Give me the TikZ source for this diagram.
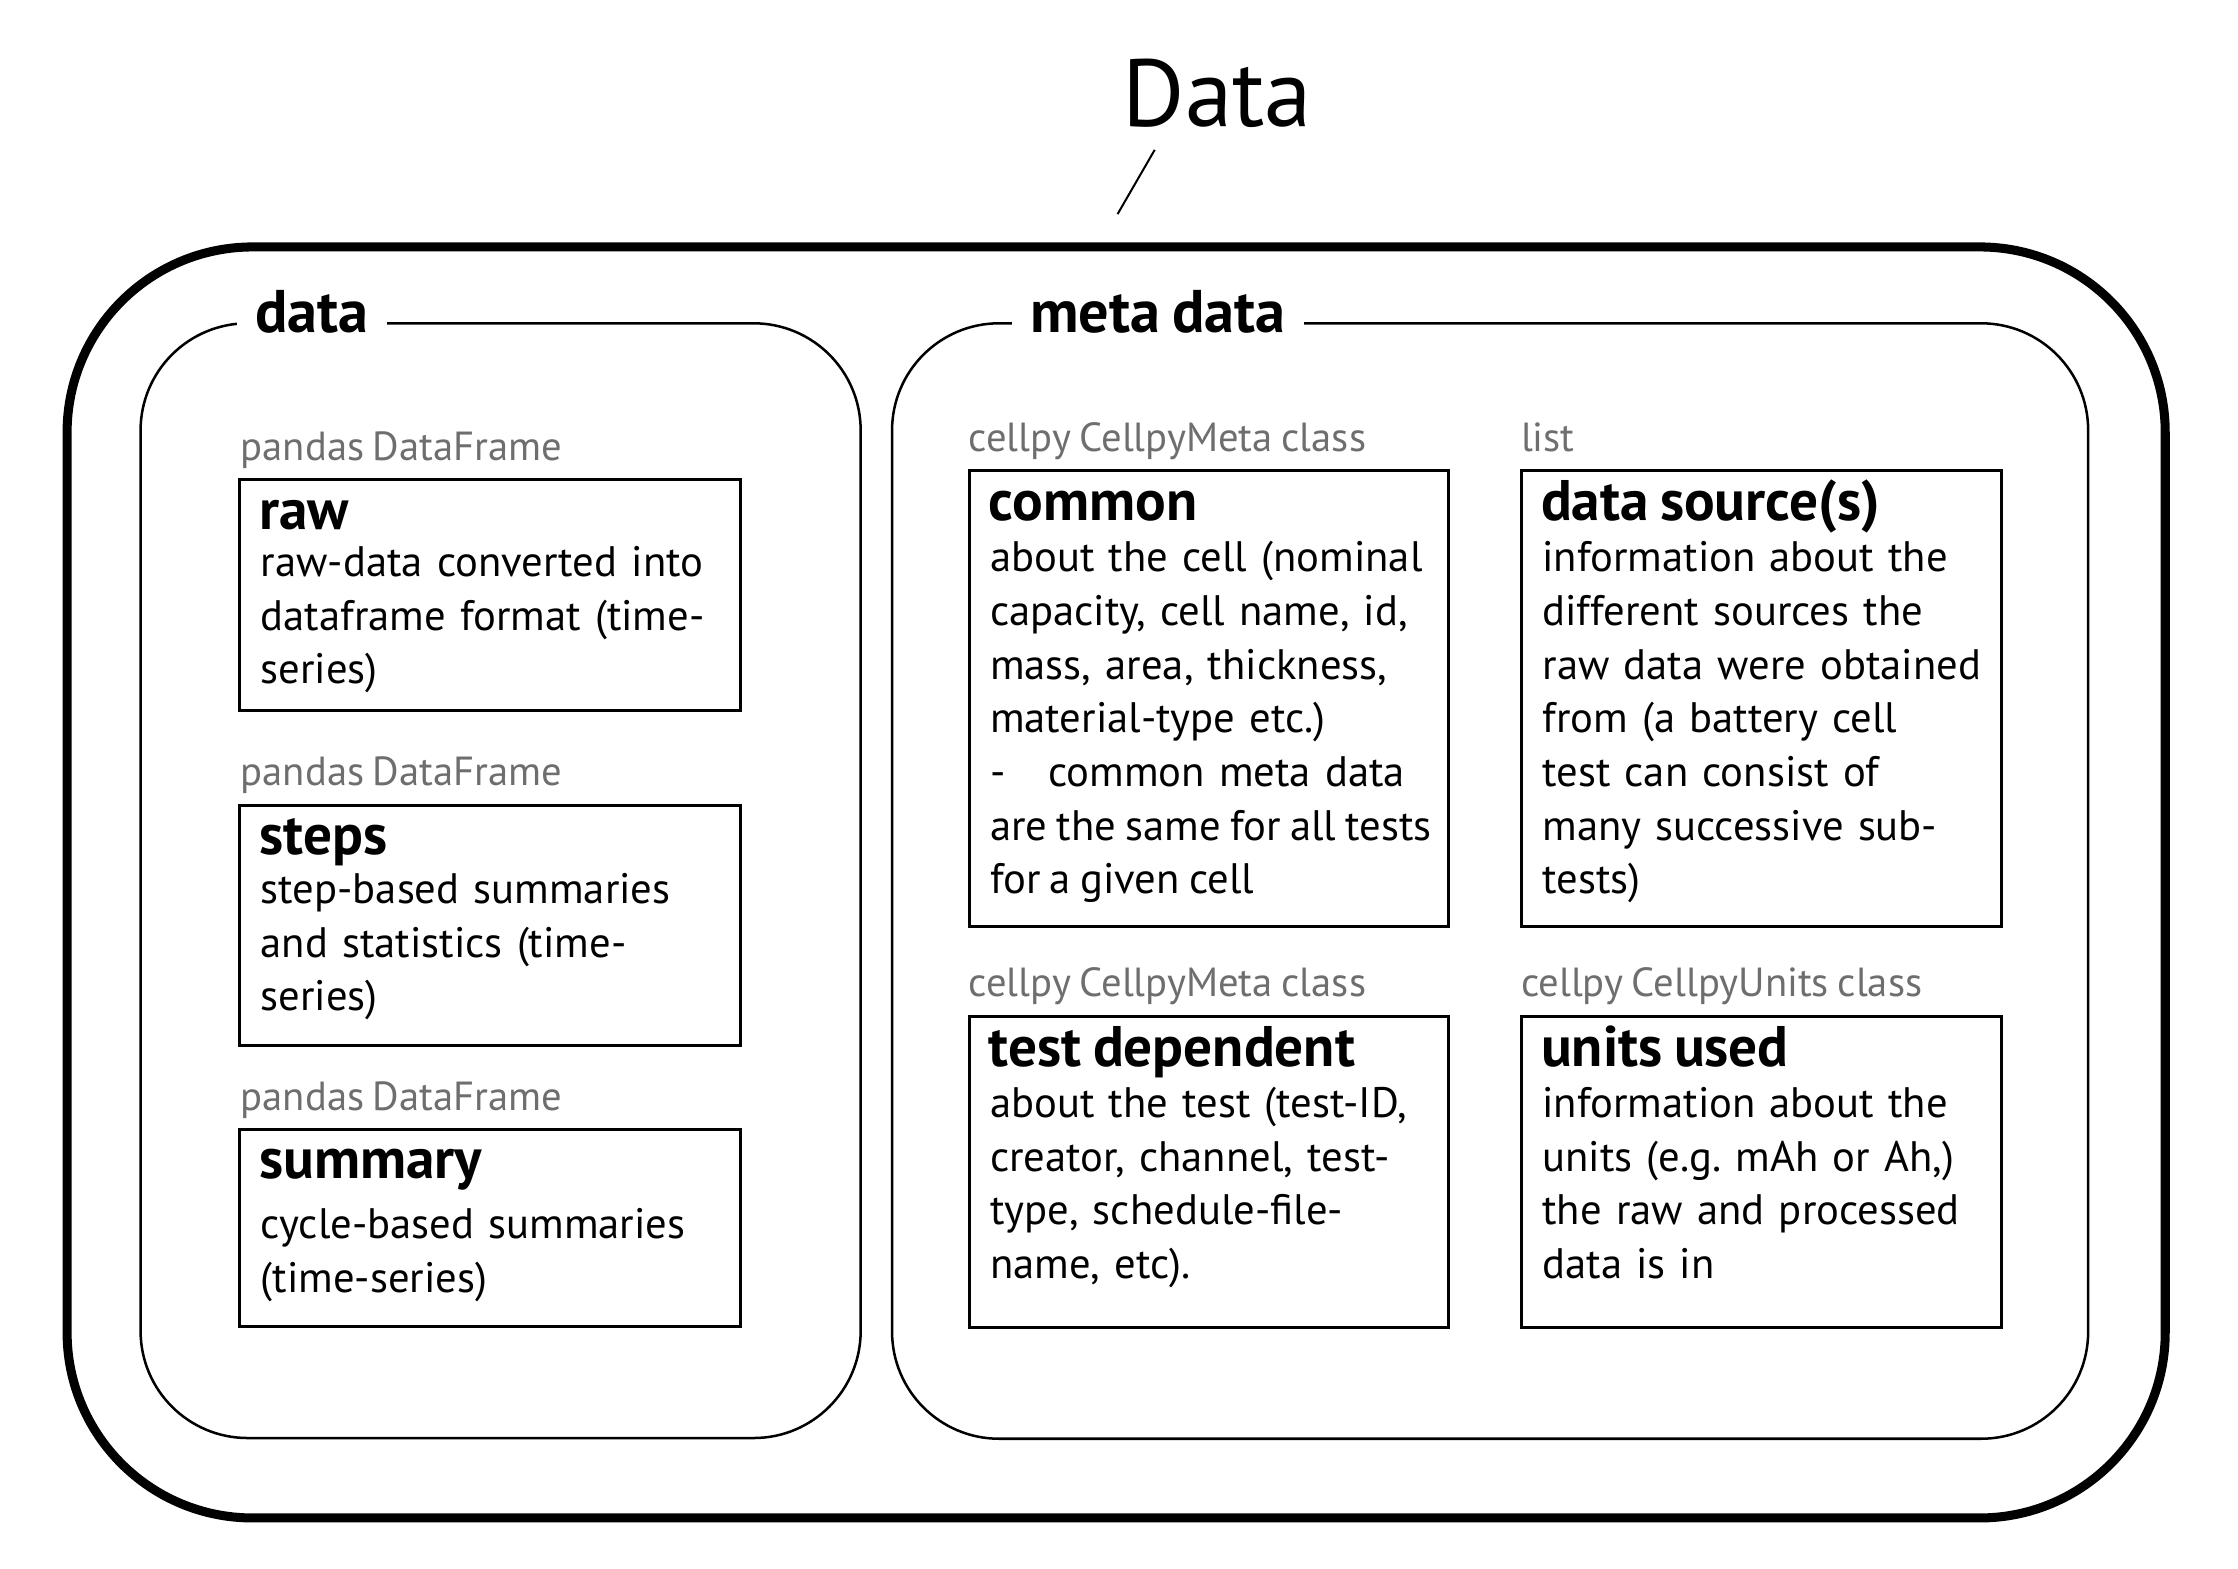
\documentclass[tikz,border=0pt]{standalone}
\usepackage{fontspec}
\setmainfont{PT Sans}[WordSpace=0.8]
\usetikzlibrary{positioning}
\frenchspacing

\definecolor{typegray}{HTML}{6E6E6E}

\tikzset{
  outerbox/.style={line width=1.8pt, rounded corners=1.3cm},
  groupbox/.style={line width=0.5pt, rounded corners=0.75cm},
  grouplabel/.style={anchor=base west, fill=white, inner xsep=0.13cm, inner ysep=0.06cm, font=\fontsize{12}{14}\selectfont\bfseries},
  itembox/.style={draw, line width=0.6pt, anchor=north west, inner sep=0pt},
  typelabel/.style={anchor=base west, inner sep=0pt, text=typegray, font=\fontsize{8.1}{9.5}\selectfont},
  itemtitle/.style={anchor=base west, inner sep=0pt, font=\fontsize{11.4}{13.5}\selectfont\bfseries},
  itemtext/.style={anchor=base west, inner sep=0pt, align=left, text width=4cm, font=\fontsize{8.5}{10.7}\selectfont},
}

\begin{document}
\begin{tikzpicture}
    \useasboundingbox (0,0) rectangle (15.68,-10.99);

    %titre
    \node[anchor=base west, inner sep=0pt, font=\fontsize{19}{22}\selectfont] (title) at (7.86,-0.887) {Data};
    \coordinate (slashtop) at (8.09,-1.05);
    \coordinate (slashbot) at (7.83,-1.50);
    \draw[line width=0.4pt] (slashtop) -- (slashbot);

    \draw[outerbox] (0.47,-1.73) rectangle (15.17,-10.635);

    %data
    \draw[groupbox] (0.985,-2.265) rectangle (6.03,-10.075);
    \node[grouplabel] (datalabel) at (1.65,-2.33) {data};

    \node[itembox, minimum width=3.51cm, minimum height=1.62cm] (raw) at (1.67,-3.35) {};
    \node[typelabel] (rawtype) at ([shift={(0.01,0.125)}]raw.north west) {pandas DataFrame};
    \node[itemtitle] (rawtitle) at ([shift={(0.14,-0.36)}]raw.north west) {raw};
    \node[itemtext] (rawtext) at ([shift={(0.15,-0.69)}]raw.north west) {raw-data converted into\\dataframe format (time-\\series)};

    \node[itembox, minimum width=3.51cm, minimum height=1.685cm] (steps) at (1.67,-5.63) {};
    \node[typelabel] (stepstype) at ([shift={(0.01,0.125)}]steps.north west) {pandas DataFrame};
    \node[itemtitle] (stepstitle) at ([shift={(0.14,-0.36)}]steps.north west) {steps};
    \node[itemtext] (stepstext) at ([shift={(0.15,-0.70)}]steps.north west) {step-based summaries\\and statistics (time-\\series)};

    \node[itembox, minimum width=3.51cm, minimum height=1.375cm] (summary) at (1.67,-7.905) {};
    \node[typelabel] (summarytype) at ([shift={(0.01,0.125)}]summary.north west) {pandas DataFrame};
    \node[itemtitle] (summarytitle) at ([shift={(0.14,-0.355)}]summary.north west) {summary};
    \node[itemtext] (summarytext) at ([shift={(0.15,-0.775)}]summary.north west) {cycle-based summaries\\(time-series)};

    %meta data
    \draw[groupbox] (6.25,-2.265) rectangle (14.63,-10.08);
    \node[grouplabel] (metalabel) at (7.08,-2.33) {meta data};

    \node[itembox, minimum width=3.36cm, minimum height=3.195cm] (common) at (6.78,-3.285) {};
    \node[typelabel] (commontype) at ([shift={(0.0,0.125)}]common.north west) {cellpy CellpyMeta class};
    \node[itemtitle] (commontitle) at ([shift={(0.14,-0.36)}]common.north west) {common};
    \node[itemtext] (commontext) at ([shift={(0.15,-0.72)}]common.north west) {about the cell (nominal\\capacity, cell name, id,\\mass, area, thickness,\\material-type etc.)\\-\hspace{0.3cm}common meta data\\{\spaceskip=0.22em\relax are the same for all tests}\\{\spaceskip=0.22em\relax for a given cell}};

    \node[itembox, minimum width=3.36cm, minimum height=3.195cm] (sources) at (10.65,-3.285) {};
    \node[typelabel] (sourcestype) at ([shift={(0.0,0.125)}]sources.north west) {list};
    \node[itemtitle] (sourcestitle) at ([shift={(0.14,-0.36)}]sources.north west) {data source(s)};
    \node[itemtext] (sourcestext) at ([shift={(0.15,-0.72)}]sources.north west) {information about the\\different sources the\\raw data were obtained\\from (a battery cell\\test can consist of\\many successive sub-\\tests)};

    \node[itembox, minimum width=3.36cm, minimum height=2.18cm] (testdep) at (6.78,-7.11) {};
    \node[typelabel] (testdeptype) at ([shift={(0.0,0.125)}]testdep.north west) {cellpy CellpyMeta class};
    \node[itemtitle] (testdeptitle) at ([shift={(0.14,-0.36)}]testdep.north west) {test dependent};
    \node[itemtext] (testdeptext) at ([shift={(0.15,-0.72)}]testdep.north west) {about the test (test-ID,\\creator, channel, test-\\type, schedule-file-\\name, etc).};

    \node[itembox, minimum width=3.36cm, minimum height=2.18cm] (units) at (10.65,-7.11) {};
    \node[typelabel] (unitstype) at ([shift={(0.0,0.125)}]units.north west) {cellpy CellpyUnits class};
    \node[itemtitle] (unitstitle) at ([shift={(0.14,-0.36)}]units.north west) {units used};
    \node[itemtext] (unitstext) at ([shift={(0.15,-0.72)}]units.north west) {information about the\\units (e.g. mAh or Ah,)\\the raw and processed\\data is in};
\end{tikzpicture}
\end{document}
